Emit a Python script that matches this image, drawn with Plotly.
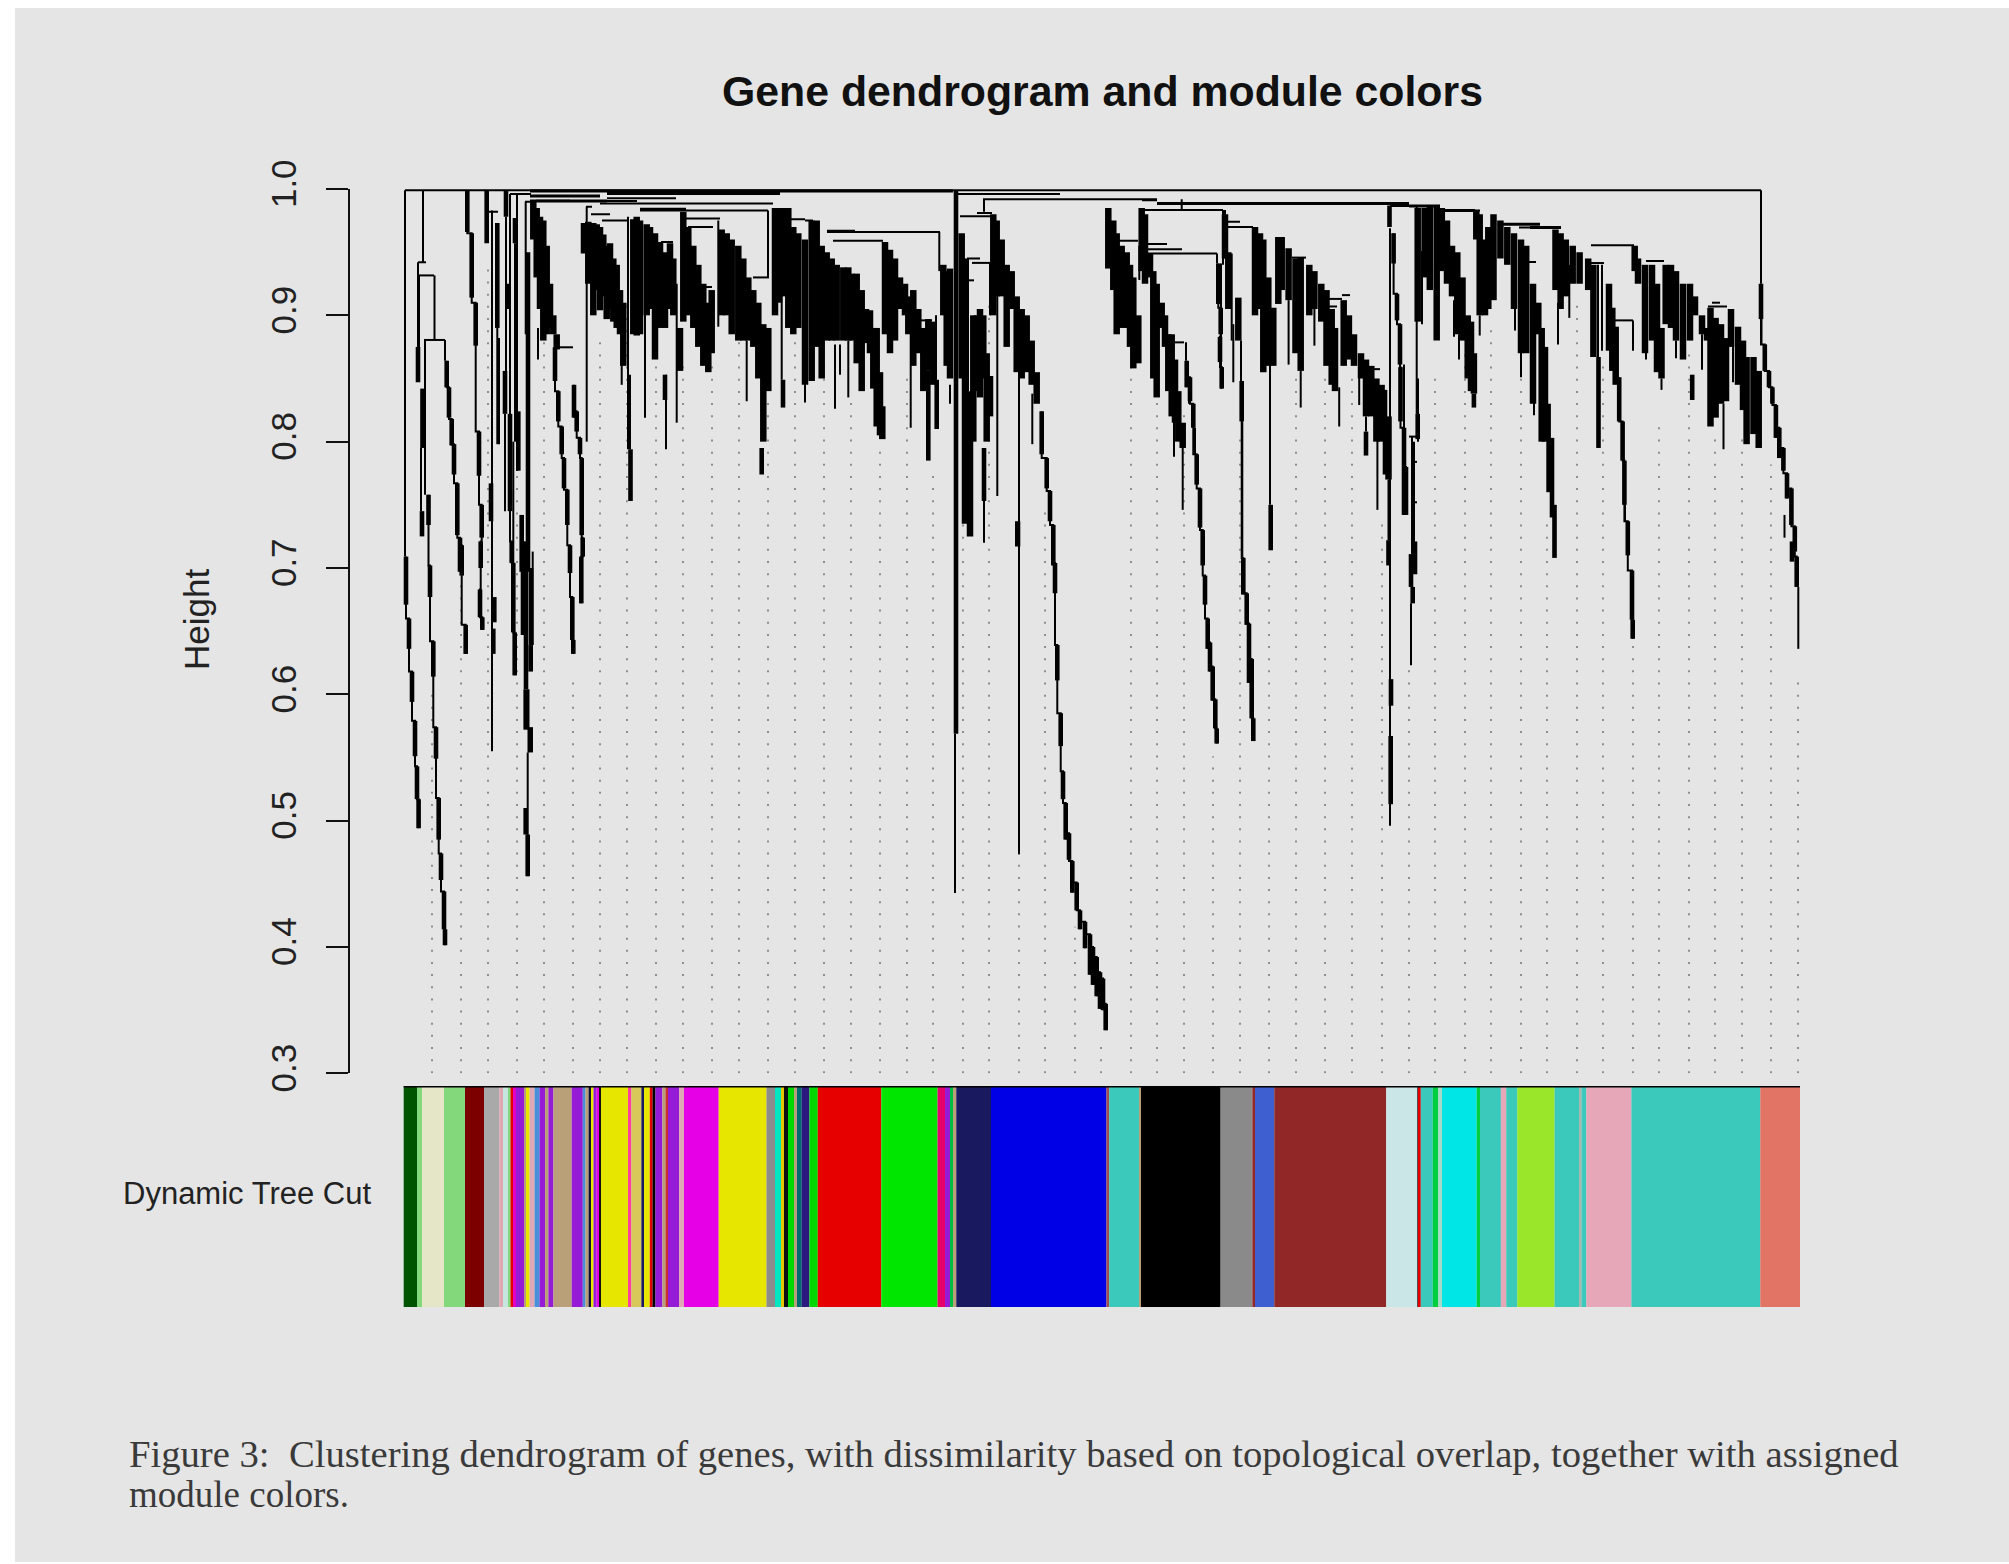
import plotly.graph_objects as go

title_text = "Gene dendrogram and module colors"
y_label = "Height"
row_label = "Dynamic Tree Cut"
caption_1 = "Figure 3:  Clustering dendrogram of genes, with dissimilarity based on topological overlap, together with assigned"
caption_2 = "module colors."
y_ticks = [0.3, 0.4, 0.5, 0.6, 0.7, 0.8, 0.9, 1.0]

# ---- module colour bar: where each run of leaves ends, and its colour ----
bar_start = 403.7
bar_stops = [
 (417,"#005400"),(422,"#84d87c"),(444,"#e5e5c8"),(465,"#84d87c"),(484,"#7c0000"),(499.4,"#a9a9a9"),(503,"#e0a8b4"),
 (508,"#c8e6e0"),(510.5,"#84d87c"),(513,"#e60000"),(516,"#e000c8"),(524,"#961bd6"),(526,"#baa078"),(529.6,"#e6e600"),
 (534.6,"#e0a8b4"),(539.6,"#4a90d8"),(545,"#961bd6"),(548.4,"#baa078"),(553.4,"#961bd6"),(571.7,"#baa078"),(582.8,"#961bd6"),
 (585.5,"#4a90d8"),(588.6,"#baa078"),(591,"#101030"),(593.5,"#e6e600"),(596.6,"#961bd6"),(599.7,"#e600e6"),(601,"#101010"),
 (628,"#e6e600"),(631.4,"#ff3fa0"),(641.4,"#d8c85a"),(644,"#191960"),(649.8,"#e6e600"),(652.5,"#e60000"),(655.5,"#000000"),
 (662.4,"#961bd6"),(665.5,"#baa078"),(668,"#c83030"),(679,"#961bd6"),(684,"#e0a8b4"),(718.7,"#e600e6"),(766.5,"#e6e600"),
 (775,"#8c8c8c"),(781,"#00e6c0"),(784,"#e6c800"),(788,"#101010"),(794,"#00d800"),(797,"#baa078"),(801.7,"#006a70"),
 (809.4,"#2a1a80"),(817.8,"#00d800"),(881.3,"#e60000"),(937.6,"#00e600"),(945,"#e6006a"),(950,"#961bd6"),(953,"#00c040"),
 (956.3,"#baa078"),(991,"#191960"),(1106.5,"#0000e6"),(1109.2,"#a05050"),(1139.4,"#3bc9bb"),(1141,"#baa078"),(1220.6,"#000000"),
 (1252.4,"#8a8a8a"),(1255,"#912727"),(1274.3,"#3d5fd0"),(1386.2,"#912727"),(1417,"#cbe6e6"),(1418,"#505050"),(1420.8,"#e60000"),
 (1432.8,"#3bc9bb"),(1438.3,"#00d040"),(1442,"#a8d8c8"),(1476.7,"#00e6e6"),(1480,"#00d040"),(1500.9,"#3bc9bb"),(1506.3,"#e6a8b8"),
 (1517.3,"#3bc9bb"),(1554.6,"#9ae62a"),(1579.9,"#3bc9bb"),(1581.5,"#a8b8b0"),(1586.4,"#3bc9bb"),(1631.4,"#e6a8b8"),(1760.3,"#3bc9bb"),
 (1800,"#e27465")]
bar_ends = [s[0] for s in bar_stops]
bar_colors = [s[1] for s in bar_stops]

# ---- guide positions (leaf) and the height each dotted guide reaches ----
guide_x = [432,461,488,517,544,573,600,627,656,683,712,739,768,795,824,851,880,907,933,963,989,1019,1045,1075,1101,
 1131,1157,1184,1213,1240,1269,1296,1325,1352,1382,1409,1435,1465,1491,1521,1547,1577,1603,1633,1659,1689,1715,1742,1771,1798]
guide_top = [.600,.689,.943,.845,.914,.610,.885,.914,.904,.867,.867,.925,.838,.914,.912,.835,.795,.856,.777,.803,.914,.610,
 .748,.416,.326,.864,.885,.824,.551,.808,.708,.856,.856,.856,.737,.619,.856,.875,.896,.851,.737,.914,.867,.641,.816,.875,.808,.808,.782,.610]

# ---- horizontal merges: (left leaf, right leaf, height) ----
merges_thin = [(405,1761,.999),(957,1060,.996),(985,1142,.9918),(1143,1223,.9833),(1147,1182,.9523),(1148,1217,.9489),
 (1227,1240,.974),(1228,1253,.970),(1292,1306,.9457),(1326,1342,.913),(1326,1337,.907),(1370,1380,.8574),(1390,1416,.9865),
 (1445,1480,.983),(1519,1561,.9695),(1524,1536,.9422),(1591,1634,.9555),(1591,1604,.9414),(1614,1633,.896),(1646,1664,.943),
 (1708,1727,.907),(1712,1720,.910),(418,426,.942),(418,434,.9316),(424,445,.8805),(555,573,.8747),(485,498,.982),
 (510,517,.996),(517,531,.996),(525,532,.990),(536,570,.9907),(586,592,.986),(591,610,.980),(602,628,.975),(607,676,.9926),
 (600,637,.9905),(600,773,.9886),(640,768,.983),(661,673,.958),(688,713,.970),(686,720,.9767),(702,712,.9224),(753,769,.930),
 (827,940,.966),(833,883,.959),(842,850,.936),(920,932,.896),(960,990,.9785),(977,992,.981),(972,990,.9415),(967,980,.945),
 (967,974,.9277),(1118,1138,.959),(1173,1184,.8786),(1147,1167,.9565),(1409,1416,.804),(775,805,.976),(805,813,.975),(1342,1350,.916),
 (1412,1417,.784),(1412,1417,.752)]
merges_heavy = [(530,953,.9985),(530,600,.9945),(530,607,.9905),(607,780,.9965),(640,686,.984),(827,855,.9665),(1142,1157,.9915),
 (1157,1409,.9886),(1409,1440,.9865),(1445,1475,.983),(1500,1540,.972),(1530,1561,.9695)]

# ---- single thin stems: (leaf, top height, bottom height) ----
stems = [(405,.999,.709),(423,.999,.942),(418,.942,.875),(419,.9316,.850),(434.5,.9316,.8805),(425,.8805,.758),(421,.795,.745),
 (445,.8805,.864),(492,.983,.555),(499,.882,.798),(510,.996,.745),(517,.996,.777),(525.7,.990,.885),(532.7,.713,.639),
 (586.7,.986,.800),(628,.978,.794),(645,.925,.819),(666,.853,.794),(676.7,.925,.815),(718.3,.975,.891),(746.7,.88,.832),
 (621.7,.885,.845),(768,.983,.930),(781.7,.92,.849),(835,.877,.826),(840,.877,.853),(848.3,.88,.835),(910.7,.893,.811),
 (936,.90,.849),(939.3,.966,.935),(950,.845,.830),(955,.5687,.4428),(968,.945,.84),(984,.9926,.982),(984,.795,.72),
 (990,.9415,.90),(997.3,.949,.757),(1019,.856,.4733),(1032.3,.838,.798),(1139.3,.955,.928),(1174,.819,.788),(1182.7,.803,.746),
 (1181.7,.9918,.9833),(1231.7,.949,.880),(1233.3,.893,.847),(1242.3,.816,.707),(1314.4,.909,.876),(1288.6,.912,.861),
 (1300.7,.856,.827),(1339.2,.843,.812),(1359.2,.852,.829),(1377.4,.806,.746),(1390,.969,.496),(1416.7,.9865,.822),
 (1411,.672,.623),(1422,.951,.893),(1454,.912,.883),(1459,.885,.865),(1479.7,.90,.884),(1534,.89,.821),(1515,.951,.888),
 (1521,.912,.851),(1558,.91,.877),(1569.3,.94,.898),(1602,.94,.872),(1633,.896,.872),(1646,.904,.865),(1661.5,.85,.841),
 (1723.5,.83,.794),(1733,.883,.847),(1761,.999,.925),(1761.5,.897,.877),(1784.5,.742,.724),(1798.3,.685,.636),
 (1225,.9833,.945),(1223,.9833,.94),(1702,.885,.857),(1676,.88,.866),(1414,.80,.711),(1418,.85,.80),
 (805,.90,.831),(538,.89,.865),(1221,.941,.842),(1019.3,.737,.717),
 (506,.978,.856),(505,.822,.745),(515,.957,.80),(513.3,.80,.704),(497.3,.89,.798),(527.7,.554,.456),(528.5,.604,.554),(523,.697,.647),
 (1270,.90,.75),(1241,.88,.848),(1186,.8786,.864),(1217,.9489,.941),(1366,.82,.808),(1388.5,.77,.722),(1598,.94,.867),
 (1189,.843,.83),(1195,.811,.79),(1404,.861,.742),(1412,.804,.711),(1625,.75,.737),(630,.853,.794)]

# ---- staircase arms, drawn with a thin connecting line: (leaf, top height, bottom height) ----
arm_a = [(406,.709,.671),(409,.660,.636),(412,.618,.594),(415,.579,.551),(417,.543,.517),(418.6,.517,.494)]
arm_b = [(428.5,.758,.734),(430,.702,.677),(433.3,.642,.614),(436,.574,.549),(438.7,.518,.485),(441,.474,.453),(444,.444,.414),(445,.414,.4014)]
arm_d = [(446.7,.864,.843),(449,.843,.819),(451.7,.818,.797),(454,.798,.774),(457.3,.767,.726),(460,.724,.697),(461.7,.718,.694),(465.7,.655,.632)]
arm_e = [(467.3,.999,.966),(471.7,.965,.914),(475.7,.910,.876),(479,.808,.773),(481.7,.750,.724),(480.7,.721,.700),(480,.683,.661),(482.3,.661,.651)]
arm_h = [(510,.822,.745),(511.7,.721,.704),(513.3,.704,.649),(514.7,.649,.615)]
arm_k = [(555,.8747,.848),(558.3,.840,.816),(561.7,.812,.790),(564,.787,.763),(567.3,.762,.734),(570,.718,.696),(572.3,.677,.643),(573.3,.643,.632)]
arm_l = [(574,.845,.819),(576.7,.824,.808),(580,.803,.790),(581.7,.787,.726),(582.7,.724,.709),(581.3,.709,.672)]
arm_o = [(1041.7,.824,.790),(1046.7,.787,.763),(1050,.761,.737),(1053.3,.734,.702),(1055,.704,.680),(1057.3,.639,.611),(1060.7,.585,.559),
 (1063,.539,.517),(1065.7,.514,.485),(1069,.490,.469),(1072.3,.468,.443),(1076.7,.451,.429),(1080,.429,.414),(1085,.420,.399),(1090,.410,.378),
 (1093,.400,.370),(1096.7,.392,.361),(1100,.380,.351),(1103,.375,.350),(1105.7,.355,.334)]
arm_p = [(1186.7,.864,.843),(1190,.851,.832),(1193.3,.830,.811),(1196.7,.79,.766),(1200,.763,.732),(1202.7,.730,.702),(1205,.694,.671),
 (1207.7,.660,.636),(1210,.641,.618),(1212.7,.622,.595),(1215.3,.596,.573),(1216.7,.573,.561)]
arm_q = [(1218.3,.941,.909),(1220.7,.906,.885),(1220,.883,.863),(1221.7,.859,.842)]
arm_r = [(1241.7,.848,.816),(1243.3,.708,.679),(1246.7,.680,.655),(1249,.656,.609),(1251.7,.628,.581),(1253.3,.581,.563)]
arm_t = [(1393.6,.965,.941),(1397,.917,.896),(1400,.893,.861),(1400.5,.859,.816),(1404,.811,.742),(1406,.78,.742)]
arm_v = [(1619.2,.851,.816),(1622.6,.816,.785),(1624.4,.785,.75),(1627.8,.737,.710),(1632,.698,.659),(1632.7,.659,.644)]
arm_w = [(1761,.925,.897),(1764.8,.877,.856),(1769,.856,.843),(1772.4,.843,.83),(1775.9,.829,.803),(1779.3,.811,.787),(1783.4,.795,.777),
 (1787,.775,.755),(1791.4,.763,.734),(1794.8,.733,.713),(1796.7,.709,.685)]

# ---- short heavy runs with no connector of their own ----
runs = [(418,.875,.847),(422.5,.842,.795),(422,.745,.725),(486.7,.999,.957),(491,.767,.737),(494.3,.677,.657),(493.3,.652,.632),
 (497.3,.973,.890),(505,.856,.822),(508,.925,.905),(506,.999,.978),(515,.977,.957),(518.3,.824,.777),(521.7,.742,.697),(523,.721,.647),
 (525.7,.510,.489),(527.7,.489,.456),(528,.95,.697),(526,.721,.604),(525.7,.604,.572),(530.7,.639,.618),(530.7,.574,.554),(531,.70,.639),
 (630.5,.794,.753),(665,.853,.833),(783,.849,.827),(761.7,.795,.774),(928.3,.856,.785),(936.7,.849,.81),(956,.999,.5687),(984,.795,.753),
 (1017.3,.737,.717),(1270.7,.750,.714),(1366,.808,.789),(1385,.841,.774),(1388.5,.722,.702),(1391,.612,.591),(1390.7,.567,.513),
 (1417.7,.822,.802),(1389.5,.987,.97),(1411,.711,.685),(1415,.721,.695),(1412.7,.685,.672),(1598.5,.867,.795),(1692.2,.853,.833),
 (1548.6,.83,.76),(1552,.803,.74),(1554.5,.75,.708),(1473.9,.838,.827),(1792,.721,.705)]

# ---- dense curtains: (leaf, top height, bottom height) ----
mass_a = [(533.3,.99,.96),(536.7,.985,.93),(540,.978,.905),(543.3,.975,.88),(546.7,.955,.885),(550,.925,.89),(553.3,.90,.885),(556.7,.885,.873)]
mass_b = [(584,.973,.949),(588.3,.974,.925),(593.3,.973,.900),(596.7,.972,.92),(600,.970,.904),(603.3,.964,.915),(606.7,.955,.897),(610,.957,.905),
 (613.3,.945,.895),(616.7,.94,.89),(620,.92,.885),(623.3,.91,.86)]
mass_c = [(633.3,.976,.885),(636.7,.978,.884),(640,.975,.885),(646.7,.972,.90),(650,.970,.905),(655,.965,.865),(660,.958,.89),(665,.950,.89),
 (670,.957,.905),(673.3,.945,.90),(680,.89,.856)]
mass_d = [(683.3,.982,.895),(688.3,.97,.90),(693.3,.955,.89),(698.3,.94,.875),(703.3,.925,.86),(708.3,.91,.855),(711.7,.92,.87)]
mass_e = [(721.7,.968,.90),(726.7,.965,.90),(731.7,.96,.885),(738.3,.955,.88),(743.3,.945,.88),(748.3,.93,.88),(753.3,.92,.875),(758.3,.91,.85),
 (763.3,.893,.80),(768.3,.89,.84)]
mass_f = [(775,.985,.90),(779,.985,.91),(783.3,.985,.915),(788.3,.985,.89),(793.3,.97,.885),(798.3,.965,.89),(805,.96,.845),(811.7,.975,.848),
 (816.7,.975,.875),(821.7,.955,.85),(826.7,.95,.88),(831.7,.945,.88),(836.7,.94,.88),(843.3,.938,.88),(848.3,.938,.88),(851.7,.933,.88),
 (856.7,.933,.862),(861.7,.92,.84),(866,.905,.878),(870,.904,.87),(873.3,.89,.842),(876.7,.89,.812),(880,.855,.805),(882.3,.828,.802)]
mass_g = [(885,.958,.885),(890,.952,.87),(895,.945,.88),(900,.93,.905),(905,.925,.90),(908.3,.915,.885),(913.3,.92,.86),(918.3,.905,.87),
 (923.3,.89,.84),(928.3,.897,.856),(933.3,.895,.845)]
mass_h = [(943.3,.94,.90),(946.7,.935,.86),(950,.937,.85)]
mass_i = [(961.7,.965,.85),(965,.945,.735),(970,.84,.725),(973.3,.90,.80),(976.7,.90,.84),(980,.905,.835),(983.3,.90,.85),(986.7,.87,.80),(990,.852,.82)]
mass_j = [(993.3,.98,.90),(996.7,.975,.915),(1001.7,.96,.915),(1006.7,.94,.875),(1011.7,.935,.905),(1016.7,.915,.855),(1021.7,.905,.85),
 (1026.7,.90,.855),(1031.7,.88,.845),(1036.7,.855,.83)]
mass_k = [(1108.3,.985,.937),(1113.3,.975,.92),(1116.7,.965,.885),(1121.7,.955,.89),(1126.7,.95,.89),(1130,.94,.875),(1133.3,.93,.858),(1138.3,.90,.862)]
mass_l = [(1141.7,.985,.935),(1145,.98,.925),(1150,.949,.93),(1153.3,.935,.85),(1156.7,.925,.835),(1161.7,.91,.89),(1165,.90,.875),(1168.3,.885,.84),
 (1171.7,.885,.82),(1175,.865,.815),(1178.3,.84,.80),(1182.7,.815,.795)]
mass_m = [(1225,.98,.945),(1228.3,.95,.905),(1238.3,.914,.88)]
mass_n = [(1255,.97,.90),(1260,.965,.905),(1263.3,.96,.855),(1268.3,.93,.86),(1273.3,.906,.86),(1278.3,.962,.909),(1281.7,.962,.92),(1288.6,.953,.912),
 (1295.5,.945,.87),(1300.7,.946,.856),(1309.3,.94,.90),(1314.4,.935,.905),(1321.3,.925,.895),(1326.5,.92,.86),(1331.7,.905,.845),(1335,.89,.84),
 (1343.7,.912,.86),(1348.9,.90,.865),(1354,.885,.86),(1361,.87,.85),(1366,.865,.82),(1371.3,.86,.82),(1376.4,.85,.80),(1381.6,.845,.80),(1388.5,.82,.77)]
mass_o = [(1417.7,.985,.895),(1424.6,.985,.93),(1429.8,.987,.92),(1436.7,.987,.88),(1441.8,.985,.935),(1447,.975,.925),(1452,.955,.915),(1457.3,.95,.885),
 (1462.5,.93,.88),(1467.7,.90,.85),(1471,.895,.84),(1473.9,.87,.838)]
mass_p = [(1476.3,.983,.96),(1479.7,.98,.90),(1485,.96,.90),(1488.3,.97,.905),(1493.5,.98,.912),(1500.4,.975,.945),(1507.3,.97,.94),(1514,.965,.905),
 (1521,.96,.87),(1526.2,.955,.87),(1533,.925,.83),(1538.3,.91,.885),(1541.7,.89,.80),(1545,.875,.80)]
mass_q = [(1555.5,.968,.92),(1560.6,.965,.905),(1565.8,.96,.915),(1572.7,.955,.925),(1579.6,.95,.925),(1588.2,.945,.92),(1593.4,.94,.867),
 (1609,.925,.872),(1612.3,.906,.856),(1615.7,.891,.845)]
mass_r = [(1634.7,.955,.935),(1638,.945,.925),(1645,.94,.87),(1652,.94,.88),(1657,.925,.855),(1661.5,.89,.85)]
mass_s = [(1665.7,.94,.893),(1671,.94,.89),(1676,.935,.88),(1683,.925,.865),(1690,.925,.88),(1695,.915,.90),(1702,.90,.885),(1707,.89,.88)]
mass_t = [(1710.5,.906,.812),(1715.6,.898,.819),(1721,.893,.83),(1726,.882,.832),(1731,.905,.875),(1738,.891,.845),(1743,.88,.825),(1746.6,.867,.798),
 (1753.5,.867,.806),(1758.7,.856,.795)]

stair_arms = [arm_a,arm_b,arm_d,arm_e,arm_h,arm_k,arm_l,arm_o,arm_p,arm_q,arm_r,arm_t,arm_v,arm_w]
masses = [mass_a,mass_b,mass_c,mass_d,mass_e,mass_f,mass_g,mass_h,mass_i,mass_j,mass_k,mass_l,mass_m,mass_n,mass_o,mass_p,mass_q,mass_r,mass_s,mass_t]


def vertical_paths(columns):
    xs, ys = [], []
    for x, top, bot in columns:
        xs += [x, x, None]
        ys += [top, bot, None]
    return xs, ys


def horizontal_paths(rows):
    xs, ys = [], []
    for x0, x1, h in rows:
        xs += [x0, x1, None]
        ys += [h, h, None]
    return xs, ys


def black_line(xs, ys, width, shape="linear"):
    return go.Scatter(x=xs, y=ys, mode="lines", line=dict(color="#000000", width=width, shape=shape), hoverinfo="skip",
                      showlegend=False, cliponaxis=False, connectgaps=False)


fig = go.Figure()

# guide dots, every path started from the axis floor so the dots line up
gx, gy = [], []
for x, top in zip(guide_x, guide_top):
    gx += [x, x, None]
    gy += [y_ticks[0], top, None]
fig.add_trace(go.Scatter(x=gx, y=gy, mode="lines", hoverinfo="skip", showlegend=False,
                         line=dict(color="#8a8a8a", width=1.9, dash="2px,10.15px")))

# dendrogram
xs, ys = [], []
for arm in stair_arms:
    for x, top, bot in arm:
        xs += [x, x]
        ys += [top, bot]
    xs.append(None)
    ys.append(None)
fig.add_trace(black_line(xs, ys, 2, shape="vh"))
fig.add_trace(black_line(*vertical_paths(stems), 2))
fig.add_trace(black_line(*horizontal_paths(merges_thin), 2))
fig.add_trace(black_line(*horizontal_paths(merges_heavy), 3))
fig.add_trace(black_line(*vertical_paths(runs + [c for a in stair_arms for c in a]), 4.6))
fig.add_trace(black_line(*vertical_paths([c for m in masses for c in m]), 6.5))

# colour bar
starts = [bar_start] + bar_ends[:-1]
fig.add_trace(go.Bar(y=[0.5] * len(bar_colors), base=starts,
                     x=[b - a for a, b in zip(starts, bar_ends)],
                     orientation="h", width=1, marker=dict(color=bar_colors, line=dict(width=0)),
                     yaxis="y2", hoverinfo="skip", showlegend=False))
fig.add_trace(go.Scatter(x=[bar_start, bar_ends[-1]], y=[1, 1], yaxis="y2", mode="lines", cliponaxis=False,
                         line=dict(color="#000000", width=3), hoverinfo="skip", showlegend=False))

W, H = 2009, 1564
L, R, T, B = 300, 1820, 189, 1307
px = lambda v: (v - L) / (R - L)
py = lambda v: (B - v) / (B - T)


def note(text, x, y, size, family="Liberation Sans", color="#111111", angle=0, xanchor="center", weight="normal"):
    return dict(text=text, xref="paper", yref="paper", x=px(x), y=py(y), showarrow=False, textangle=angle,
                xanchor=xanchor, yanchor="middle", font=dict(family=family, size=size, color=color, weight=weight))


fig.update_layout(
    width=W, height=H, autosize=False, paper_bgcolor="#e5e5e5", plot_bgcolor="rgba(0,0,0,0)",
    margin=dict(l=L, r=W - R, t=T, b=H - B, pad=0), showlegend=False, barmode="overlay",
    xaxis=dict(range=[L, R], visible=False, fixedrange=True),
    yaxis=dict(range=[0.3, 1.0], domain=[(B - 1073.3) / (B - T), 1], anchor="free", position=px(349),
               tickmode="array", tickvals=y_ticks, ticktext=[f"{v:.1f}" for v in y_ticks],
               ticks="outside", ticklen=22, tickwidth=1.8, tickcolor="#111111", showline=True, linewidth=1.8,
               linecolor="#111111", showgrid=False, zeroline=False, tickangle=-90, ticklabelstandoff=16,
               tickfont=dict(family="Liberation Sans", size=35, color="#222222"), fixedrange=True),
    yaxis2=dict(range=[0, 1], domain=[0, (B - 1086) / (B - T)], visible=False, anchor="x", fixedrange=True),
    annotations=[
        note(title_text, 1102.5, 91, 42.8, weight="bold"),
        note(y_label, 196, 620, 35, angle=-90, color="#222222"),
        note(row_label, 246.5, 1193, 31, color="#222222"),
        note(caption_1, 127, 1454, 38.65, family="Liberation Serif", color="#3a3a3a", xanchor="left"),
        note(caption_2, 127, 1494, 37, family="Liberation Serif", color="#3a3a3a", xanchor="left"),
    ],
    shapes=[
        dict(type="rect", xref="paper", yref="paper", x0=px(0), x1=px(15), y0=py(0), y1=py(H), fillcolor="#ffffff", line=dict(width=0), layer="below"),
        dict(type="rect", xref="paper", yref="paper", x0=px(0), x1=px(W), y0=py(0), y1=py(8), fillcolor="#ffffff", line=dict(width=0), layer="below"),
        dict(type="rect", xref="paper", yref="paper", x0=px(0), x1=px(W), y0=py(1562), y1=py(H), fillcolor="#ffffff", line=dict(width=0), layer="below"),
    ],
)

fig.write_html("out.html", config=dict(displayModeBar=False),
               post_script="document.body.style.margin='0';document.body.style.overflow='hidden';")
